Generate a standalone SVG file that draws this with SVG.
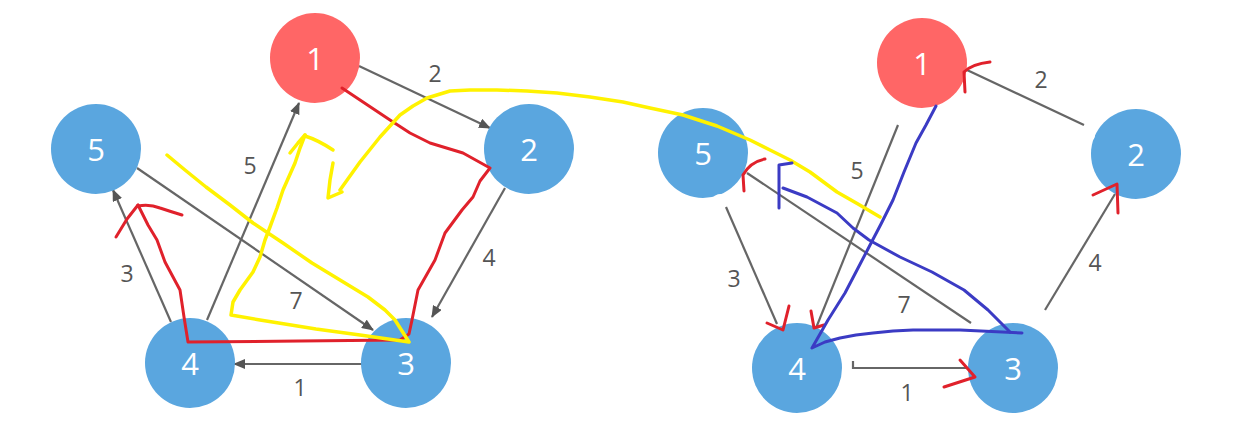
<svg xmlns="http://www.w3.org/2000/svg" width="1236" height="424" viewBox="0 0 1236 424">
<style>
.bg{fill:#ffffff}
.blue{fill:#5aa6df}
.red{fill:#ff6666}
.nl{font-family:"Open Sans","Noto Sans","DejaVu Sans",sans-serif;font-size:31px;fill:#ffffff;text-anchor:middle;dominant-baseline:central}
.el{font-family:"Open Sans","Noto Sans","DejaVu Sans",sans-serif;font-size:23px;fill:#555555;text-anchor:middle;dominant-baseline:central}
.e{stroke:#666666;stroke-width:2.2;fill:none}
.ea{stroke:#666666;stroke-width:2.2;fill:none;marker-end:url(#ah)}
.hr{stroke:#e0212b;stroke-width:3;fill:none;stroke-linecap:round;stroke-linejoin:round}
.hy{stroke:#fff200;stroke-width:3.5;fill:none;stroke-linecap:round;stroke-linejoin:round}
.hb{stroke:#3b3bc4;stroke-width:3;fill:none;stroke-linecap:round;stroke-linejoin:round}
.wp{fill:#ffffff}
</style>
<defs>
<marker id="ah" viewBox="0 0 12 10" refX="11" refY="5" markerWidth="12" markerHeight="10" markerUnits="userSpaceOnUse" orient="auto">
<path d="M0,0 L12,5 L0,10 Z" fill="#555555"/>
</marker>
</defs>
<rect class="bg" x="0" y="0" width="1236" height="424"/>

<g id="connectors">
<!-- left graph -->
<line class="ea" x1="359" y1="66" x2="490" y2="128"/>
<line class="ea" x1="505" y1="188" x2="432" y2="317"/>
<line class="ea" x1="207" y1="320" x2="299" y2="103"/>
<line class="ea" x1="171" y1="322" x2="113" y2="190"/>
<line class="ea" x1="137" y1="168" x2="373" y2="330"/>
<line class="ea" x1="362" y1="364" x2="234" y2="364"/>
<!-- right graph -->
<line class="e" x1="1084" y1="125" x2="967" y2="70"/>
<line class="e" x1="898" y1="125" x2="816" y2="328"/>
<line class="e" x1="726" y1="207" x2="777" y2="324"/>
<line class="e" x1="747" y1="173" x2="971" y2="323"/>
<line class="e" x1="1045" y1="310" x2="1115" y2="194"/>
<path class="e" d="M853,361 L853,368 L970,368"/>
</g>

<g id="edge-labels">
<text class="el" x="435" y="73">2</text>
<text class="el" x="250" y="165">5</text>
<text class="el" x="489" y="257">4</text>
<text class="el" x="127" y="273">3</text>
<text class="el" x="296" y="300">7</text>
<text class="el" x="300" y="387">1</text>
<text class="el" x="1041" y="79">2</text>
<text class="el" x="857" y="170">5</text>
<text class="el" x="734" y="278">3</text>
<text class="el" x="904" y="304">7</text>
<text class="el" x="1095" y="262">4</text>
<text class="el" x="907" y="392">1</text>
</g>

<g id="L1"><circle class="red" cx="315" cy="58" r="45"/><text class="nl" x="315" y="58">1</text></g>
<g id="L2"><circle class="blue" cx="529" cy="149" r="45"/><text class="nl" x="529" y="149">2</text></g>
<g id="L3"><circle class="blue" cx="406" cy="363" r="45"/><text class="nl" x="406" y="363">3</text></g>
<g id="L4"><circle class="blue" cx="190" cy="363" r="45"/><text class="nl" x="190" y="363">4</text></g>
<g id="L5"><circle class="blue" cx="96" cy="149" r="45"/><text class="nl" x="96" y="149">5</text></g>

<g id="R1"><circle class="red" cx="922" cy="63" r="45"/><text class="nl" x="922" y="63">1</text></g>
<g id="R2"><circle class="blue" cx="1136" cy="154" r="45"/><text class="nl" x="1136" y="154">2</text></g>
<g id="R3"><circle class="blue" cx="1013" cy="368" r="45"/><text class="nl" x="1013" y="368">3</text></g>
<g id="R4"><circle class="blue" cx="797" cy="368" r="45"/><text class="nl" x="797" y="368">4</text></g>
<g id="R5"><circle class="blue" cx="703" cy="153" r="45"/><text class="nl" x="703" y="153">5</text></g>

<g id="erasures">
<ellipse class="wp" cx="721" cy="199" rx="8" ry="5"/>
<ellipse class="wp" cx="903" cy="109" rx="5" ry="3"/>
<ellipse class="wp" cx="1092" cy="135" rx="3" ry="5"/>
<ellipse class="wp" cx="977" cy="323" rx="4" ry="3"/>
<ellipse class="wp" cx="846" cy="364" rx="4" ry="4"/>
</g>

<g id="annotations">
<polyline class="hr" points="342,88 366,104 390,120 410,133 430,143 463,153 490,168 480,181 473,197 462,210 445,233 435,260 418,290 412,320 409,334 400,340 300,341 188,342 184,317 180,290 165,262 157,240 148,225 138,205"/>
<polyline class="hr" points="116,237 127,219 138,205"/>
<path class="hr" d="M138,206 Q150,204 160,208 Q172,212 182,215"/>

<polyline class="hy" points="880,217 858,204 837,192 810,172 790,160 770,150 750,140 717,126 683,115 650,108 623,102 590,97 557,93 527,91 497,90 470,90 450,91 427,98 413,106 400,115 380,137 360,162 340,190"/>
<polyline class="hy" points="333,163 330,180 328,198 342,192"/>
<polyline class="hy" points="167,155 185,170 206,187 230,205 253,223 283,243 312,263 340,280 368,297 385,310 395,320 409,342 360,335 316,329 260,320 231,315 233,302 240,290 253,272 260,257 265,240 270,227 277,208 283,190 295,163 300,148 305,135"/>
<polyline class="hy" points="290,153 298,143 305,135"/>
<path class="hy" d="M305,136 Q318,140 333,150"/>

<path class="hr" d="M965,92 L964,72 Q972,64 990,62"/>
<path class="hr" d="M744,191 L743,175 Q750,162 765,159"/>
<path class="hr" d="M1093,195 L1117,184 L1118,213"/>
<path class="hr" d="M767,323 L783,330 L789,306"/>
<path class="hr" d="M811,311 L814,328 L824,325"/>
<path class="hr" d="M944,387 L975,377 L960,360"/>

<polyline class="hb" points="936,106 926,125 916,143 904,172 893,200 881,224 869,247 857,270 845,293 828,320 812,348 825,342 840,338 856,335 873,333 893,331 913,330 960,330 1022,333"/>
<polyline class="hb" points="1010,332 998,320 988,310 964,290 932,272 900,257 869,240 853,228 837,213 807,197 783,188"/>
<polyline class="hb" points="779,208 779,186 779,165 792,163"/>
</g>
</svg>
